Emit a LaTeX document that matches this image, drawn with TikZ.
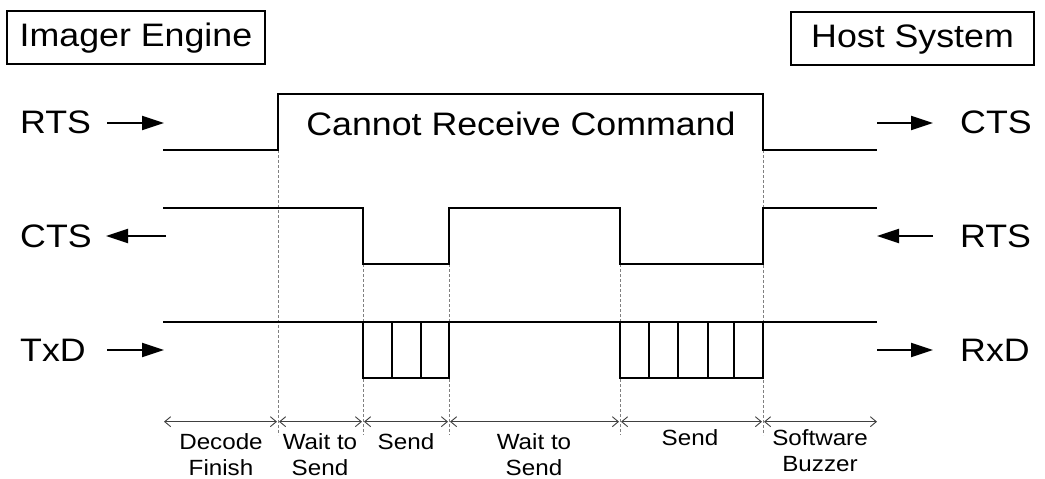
\documentclass[tikz,border=0pt]{standalone}
\usepackage{fontspec}
\setmainfont{Liberation Sans}[FakeStretch=1.1]
\usetikzlibrary{arrows.meta}
\begin{document}
\begin{tikzpicture}[x=1pt,y=-1pt,
  big/.style={font=\fontsize{32.5}{39}\selectfont, inner sep=0pt},
  small/.style={font=\fontsize{22}{26}\selectfont, inner sep=0pt, align=center, anchor=base, text depth=0pt},
  sysbox/.style={draw, line width=1.3pt, inner sep=0pt, minimum height=53pt, text height=23.3pt, text depth=5pt, font=\fontsize{32.5}{39}\selectfont},
  sig/.style={line width=2pt, line join=miter},
  guide/.style={draw=gray, line width=0.8pt, dash pattern=on 3pt off 2pt},
  span/.style={draw=black!75, line width=0.9pt, {Straight Barb[length=6pt,width=10pt]}-{Straight Barb[length=6pt,width=10pt]}},
  dir/.style={line width=2pt, -{Triangle[length=22pt,width=14pt]}}
]
\useasboundingbox (0,0) rectangle (1045,479);

% system boxes
\node[sysbox, minimum width=258pt] (imager) at (136,37.5) {Imager Engine};
\node[sysbox, minimum width=243pt] (host) at (912.5,38.5) {Host System};

% signal labels
\node[big, anchor=base west] (rtsL) at (20,133.3) {RTS};
\node[big, anchor=base west] (ctsL) at (20,247) {CTS};
\node[big, anchor=base west] (txdL) at (20,361) {TxD};
\node[big, anchor=base west] (ctsR) at (960,133.3) {CTS};
\node[big, anchor=base west] (rtsR) at (960,247) {RTS};
\node[big, anchor=base west] (rxdR) at (960,361) {RxD};
\node[big, anchor=base] (cannot) at (521,135) {Cannot Receive Command};

% direction arrows
\coordinate (a1) at (107,123); \coordinate (b1) at (164,123);
\coordinate (a2) at (166,236); \coordinate (b2) at (106,236);
\coordinate (a3) at (107,350); \coordinate (b3) at (164,350);
\coordinate (a4) at (877,123); \coordinate (b4) at (933,123);
\coordinate (a5) at (933,236); \coordinate (b5) at (877,236);
\coordinate (a6) at (877,350); \coordinate (b6) at (933,350);
\draw[dir] (a1) -- (b1);
\draw[dir] (a2) -- (b2);
\draw[dir] (a3) -- (b3);
\draw[dir] (a4) -- (b4);
\draw[dir] (a5) -- (b5);
\draw[dir] (a6) -- (b6);

% guide lines
\draw[guide] (278,150) -- (278,435);
\draw[guide] (363,264) -- (363,435);
\draw[guide] (449,264) -- (449,435);
\draw[guide] (620,264) -- (620,435);
\draw[guide] (763,150) -- (763,435);

% RTS waveform
\draw[sig] (163,150) -- (278,150) -- (278,94) -- (763,94) -- (763,150) -- (877,150);
% CTS waveform
\draw[sig] (163,208) -- (363,208) -- (363,264) -- (449,264) -- (449,208) -- (620,208)
  -- (620,264) -- (763,264) -- (763,208) -- (877,208);
% TxD waveform
\draw[sig] (163,322) -- (877,322);
\draw[sig] (363,322) rectangle (449,378);
\draw[sig] (392,322) -- (392,378) (421,322) -- (421,378);
\draw[sig] (620,322) rectangle (763,378);
\draw[sig] (649,322) -- (649,378) (678,322) -- (678,378) (708,322) -- (708,378) (734,322) -- (734,378);

% spans
\coordinate (s0) at (164,421.7); \coordinate (s1l) at (277,421.7);
\coordinate (s1r) at (279,421.7); \coordinate (s2l) at (362,421.7);
\coordinate (s2r) at (364,421.7); \coordinate (s3l) at (448,421.7);
\coordinate (s3r) at (450,421.7); \coordinate (s4l) at (619,421.7);
\coordinate (s4r) at (621,421.7); \coordinate (s5l) at (762,421.7);
\coordinate (s5r) at (764,421.7); \coordinate (s6) at (877,421.7);
\draw[span] (s0) -- (s1l);
\draw[span] (s1r) -- (s2l);
\draw[span] (s2r) -- (s3l);
\draw[span] (s3r) -- (s4l);
\draw[span] (s4r) -- (s5l);
\draw[span] (s5r) -- (s6);

% phase labels (base anchor = baseline of last line)
\node[small] (p1) at (221,475) {Decode\\Finish};
\node[small] (p2) at (320,475) {Wait to\\Send};
\node[small] (p3) at (406,449.5) {Send};
\node[small] (p4) at (534,475) {Wait to\\Send};
\node[small] (p5) at (690,445.5) {Send};
\node[small] (p6) at (820,471.5) {Software\\Buzzer};
\end{tikzpicture}
\end{document}
